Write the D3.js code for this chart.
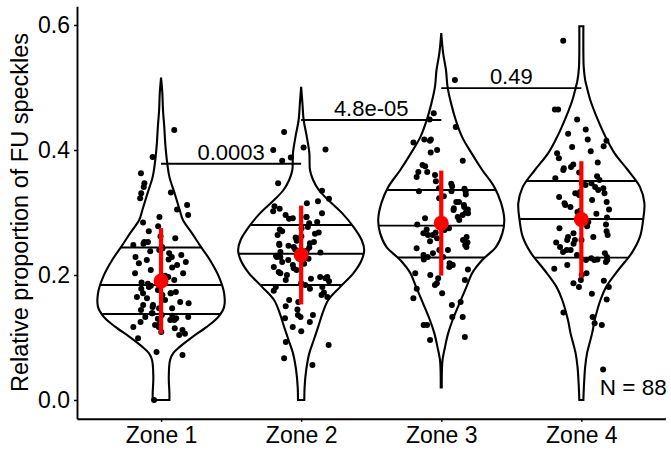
<!DOCTYPE html>
<html>
<head>
  <meta charset="utf-8">
  <title>Violin</title>
  <script src="https://d3js.org/d3.v7.min.js"></script>
  <style>
    body { margin: 0; background: #fff; }
    text { font-family: "Liberation Sans", Arial, sans-serif; fill: #000; }
  </style>
</head>
<body>
<div id="chart"></div>
<script>
  // categories and values
  let zones = ['Zone 1', 'Zone 2', 'Zone 3', 'Zone 4'];

  let zone1 = [0.432,0.389,0.363,0.332,0.341,0.347,0.331,0.323,0.312,0.296,0.293,0.284,0.270,0.253,0.259,0.253,0.245,
    0.243,0.240,0.232,0.229,0.221,0.224,0.235,0.225,0.219,0.229,0.216,0.203,0.203,0.192,0.191,
    0.181,0.176,0.173,0.171,0.171,0.163,0.165,0.171,0.160,0.152,0.152,0.147,0.149,0.147,0.139,0.139,
    0.133,0.133,0.128,0.128,0.115,0.117,0.117,0.109,0.099,0.123,0.072,0.077,0.000,
    0.262,0.278,0.250,0.305,0.248,
    0.188,0.197,0.208,0.212,0.186,0.199,0.238,
    0.178,0.168,0.157,0.144,0.183,0.155,
    0.136,0.131,0.125,0.120,0.112,0.106,0.135,0.130,0.104];
  let zone2 = [0.429,0.400,0.401,0.404,0.388,0.383,0.315,0.299,0.291,0.293,0.310,0.293,0.283,0.277,0.264,0.262,0.251,0.245,
    0.253,0.248,0.237,0.229,0.229,0.224,0.221,0.213,0.216,0.205,0.203,0.197,0.192,0.197,0.184,0.181,0.181,0.157,
    0.136,0.136,0.131,0.133,0.117,0.093,0.088,0.067,0.056,
    0.285,0.302,0.322,0.335,0.290,0.306,0.347,0.318,0.296,
    0.236,0.241,0.244,0.250,0.255,0.258,0.260,0.266,0.270,0.273,0.239,0.247,0.268,0.275,
    0.187,0.190,0.195,0.200,0.208,0.211,0.218,0.226,0.231,0.194,
    0.178,0.172,0.165,0.160,0.150,0.145,0.125,0.110,0.168,0.175];
  let zone3 = [0.512,0.459,0.449,0.437,0.417,0.412,0.417,0.415,0.400,0.396,0.374,0.376,0.365,0.365,0.357,0.346,0.339,
    0.334,0.334,0.334,0.317,0.323,0.317,0.309,0.307,0.304,0.299,0.296,0.291,0.288,0.284,
    0.277,0.273,0.267,0.272,0.264,0.261,0.256,0.259,0.264,0.252,0.243,0.240,0.245,0.240,0.229,0.229,
    0.219,0.213,0.200,0.192,0.216,0.195,0.203,0.184,0.171,0.152,0.133,0.133,0.120,0.163,0.096,0.101,0.157,0.120,
    0.350,0.342,0.383,0.338,0.360,
    0.281,0.300,0.312,0.326,0.293,0.285,0.329,0.305,
    0.248,0.235,0.268,0.254,0.232,0.275,
    0.225,0.209,0.187,0.178];
  let zone4 = [0.575,0.465,0.465,0.449,0.433,0.426,0.417,0.415,0.406,0.405,0.395,0.387,0.373,0.371,
    0.347,0.344,0.347,0.341,0.339,0.331,0.333,0.331,0.328,0.309,0.301,0.315,0.317,0.305,
    0.285,0.288,0.275,0.261,0.261,0.267,0.256,0.256,0.256,0.240,0.235,0.240,0.229,
    0.224,0.221,0.224,0.225,0.227,0.216,0.224,0.200,0.203,0.181,0.192,0.191,0.161,0.181,0.187,
    0.133,0.123,0.140,0.120,0.049,
    0.352,0.358,0.364,0.380,0.355,0.398,0.368,0.377,
    0.292,0.298,0.320,0.312,0.336,0.296,0.325,0.303,
    0.270,0.281,0.245,0.250,0.264,0.232,0.278,0.252,0.237,
    0.210,0.170];
  let points = [zone1, zone2, zone3, zone4];

  // violin outlines: [value, relative half width]
  let violin1 = [[0.516,0],[0.491,0.02],[0.464,0.03],[0.437,0.05],[0.411,0.065],[0.384,0.09],[0.357,0.13],[0.331,0.21],
    [0.304,0.29],[0.288,0.34],[0.267,0.48],[0.245,0.62],[0.224,0.76],[0.197,0.9],[0.171,0.98],[0.149,0.98],[0.133,0.89],
    [0.117,0.71],[0.101,0.49],[0.085,0.29],[0.075,0.19],[0.064,0.14],[0.037,0.12],[0.011,0.13],[0.0,0.13]];
  let violin2 = [[0.501,0],[0.475,0.02],[0.448,0.04],[0.421,0.09],[0.395,0.13],[0.368,0.14],[0.352,0.19],[0.336,0.28],
    [0.32,0.43],[0.299,0.65],[0.277,0.83],[0.256,0.96],[0.24,1.0],[0.224,0.96],[0.203,0.83],[0.181,0.62],[0.16,0.43],
    [0.139,0.34],[0.117,0.27],[0.096,0.2],[0.075,0.13],[0.048,0.08],[0.021,0.055],[0.0,0.05]];
  let violin3 = [[0.587,0],[0.555,0.03],[0.528,0.075],[0.501,0.1],[0.475,0.155],[0.448,0.23],[0.421,0.33],[0.395,0.48],
    [0.368,0.65],[0.341,0.84],[0.315,0.95],[0.288,1.0],[0.267,0.97],[0.245,0.87],[0.224,0.65],[0.203,0.49],[0.181,0.4],
    [0.155,0.29],[0.128,0.18],[0.107,0.11],[0.085,0.06],[0.064,0.02],[0.045,0.01],[0.02,0.008]];
  let violin4 = [[0.598,0.032],[0.555,0.032],[0.533,0.037],[0.512,0.06],[0.499,0.09],[0.48,0.14],[0.453,0.24],[0.421,0.38],
    [0.395,0.52],[0.368,0.73],[0.341,0.92],[0.315,0.99],[0.288,0.97],[0.261,0.92],[0.235,0.79],[0.208,0.58],[0.181,0.39],
    [0.16,0.3],[0.128,0.21],[0.107,0.17],[0.075,0.09],[0.053,0.06],[0.021,0.04],[0.0,0.032]];
  let violins = [violin1, violin2, violin3, violin4];

  let q25 = [0.1376, 0.184, 0.228, 0.2277];
  let q50 = [0.184, 0.234, 0.279, 0.2896];
  let q75 = [0.244, 0.280, 0.336, 0.3504];
  let means = [0.1905, 0.232, 0.283, 0.289];
  let sds = [0.0845, 0.079, 0.084, 0.093];

  let pairs = [[0, 1], [1, 2], [2, 3]];
  let pHeights = [0.378, 0.448, 0.499];
  let pLabels = ['0.0003', '4.8e-05', '0.49'];
  let yTicks = [0, 0.2, 0.4, 0.6];

  let margin = {top: 6.25, right: 5.6, bottom: 33.25, left: 77};
  let W = 671, H = 452;
  let w = W - margin.left - margin.right;
  let h = H - margin.top - margin.bottom;

  let svg = d3.select('#chart')
    .append('svg')
      .attr('width', W)
      .attr('height', H)
    .append('g')
      .attr('transform', `translate(${margin.left},${margin.top})`);

  let x = d3.scalePoint().domain(zones).range([0, w]).padding(0.6);
  let y = d3.scaleLinear().domain([-0.03, 0.63]).range([h, 0]);
  let halfMax = 0.45 * x.step();

  // violins
  let area = d3.area()
    .curve(d3.curveCatmullRom)
    .y(d => y(d[0]));

  violins.forEach((v, i) => {
    let cx = x(zones[i]);
    let m = d3.max(v, d => d[1]);
    let wS = d3.scaleLinear().domain([0, m]).range([0, halfMax]);
    svg.append('path')
      .datum(v)
      .attr('d', area.x0(d => cx - wS(d[1])).x1(d => cx + wS(d[1])))
      .attr('fill', 'none')
      .attr('stroke', '#000')
      .attr('stroke-width', 2.1);

    // quantile lines reach the outline
    let sorted = v.slice().sort((a, b) => a[0] - b[0]);
    let widthAt = d3.scaleLinear().domain(sorted.map(d => d[0])).range(sorted.map(d => wS(d[1])));
    [q25[i], q50[i], q75[i]].forEach(q => {
      let hw = widthAt(q);
      svg.append('line')
        .attr('x1', cx - hw).attr('x2', cx + hw)
        .attr('y1', y(q)).attr('y2', y(q))
        .attr('stroke', '#000')
        .attr('stroke-width', 1.8);
    });
  });

  // jittered points (seeded, like geom_jitter)
  let rnd = d3.randomUniform.source(d3.randomLcg(0.42))(-0.2, 0.2);
  points.forEach((vals, i) => {
    svg.append('g').selectAll('circle')
      .data(vals)
      .enter()
      .append('circle')
      .attr('cx', () => x(zones[i]) + rnd() * x.step())
      .attr('cy', d => y(d))
      .attr('r', 3)
      .attr('fill', '#000');
  });

  // mean +/- sd
  svg.append('g').selectAll('line')
    .data(zones)
    .enter()
    .append('line')
    .attr('x1', d => x(d)).attr('x2', d => x(d))
    .attr('y1', (d, i) => y(means[i] + sds[i]))
    .attr('y2', (d, i) => y(means[i] - sds[i]))
    .attr('stroke', '#ff0000')
    .attr('stroke-width', 4.2);
  svg.append('g').selectAll('circle')
    .data(zones)
    .enter()
    .append('circle')
    .attr('cx', d => x(d))
    .attr('cy', (d, i) => y(means[i]))
    .attr('r', 7.5)
    .attr('fill', '#ff0000');

  // significance bars
  pairs.forEach(([a, b], i) => {
    let x1 = x(zones[a]), x2 = x(zones[b]);
    svg.append('line')
      .attr('x1', x1).attr('x2', x2)
      .attr('y1', y(pHeights[i])).attr('y2', y(pHeights[i]))
      .attr('stroke', '#000')
      .attr('stroke-width', 1.8);
    svg.append('text')
      .attr('x', (x1 + x2) / 2)
      .attr('y', y(pHeights[i]) - 4)
      .attr('text-anchor', 'middle')
      .attr('font-size', '22px')
      .text(pLabels[i]);
  });

  svg.append('text')
    .attr('x', w + 1.3)
    .attr('y', y(0) - 5)
    .attr('text-anchor', 'end')
    .attr('font-size', '22.5px')
    .text('N = ' + zone1.length);

  // axes
  let xAxis = d3.axisBottom(x).tickSize(3).tickSizeOuter(0).tickPadding(5.4);
  let yAxis = d3.axisLeft(y).tickValues(yTicks).tickFormat(d3.format('.1f'))
    .tickSize(3).tickSizeOuter(0).tickPadding(4);

  let gx = svg.append('g')
    .attr('transform', `translate(0,${h})`)
    .call(xAxis);
  let gy = svg.append('g').call(yAxis);

  [gx, gy].forEach(g => {
    g.select('.domain').attr('stroke', '#000').attr('stroke-width', 1.9);
    g.selectAll('.tick line').attr('stroke', '#000').attr('stroke-width', 1.5);
    g.selectAll('.tick text')
      .attr('font-family', '"Liberation Sans", Arial, sans-serif')
      .attr('font-size', '23px')
      .attr('fill', '#000');
  });

  svg.append('text')
    .attr('transform', `translate(${28 - margin.left},${h / 2}) rotate(-90)`)
    .attr('text-anchor', 'middle')
    .attr('font-size', '23.5px')
    .text('Relative proportion of FU speckles');
</script>
</body>
</html>
